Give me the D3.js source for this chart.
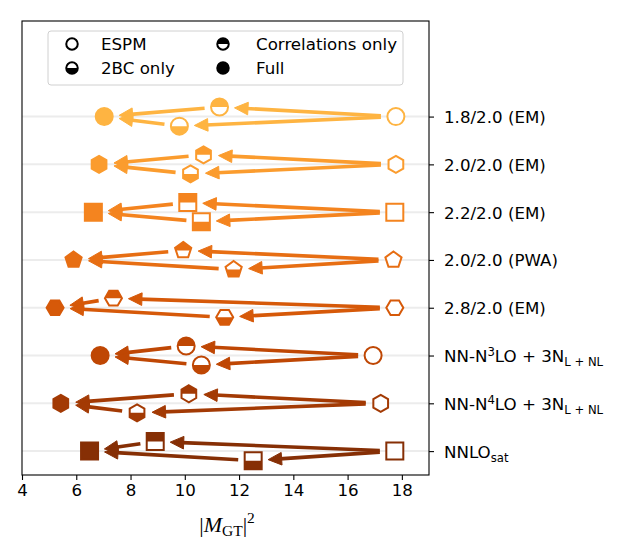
<!DOCTYPE html>
<html>
<head>
<meta charset="utf-8">
<script src="https://cdn.jsdelivr.net/npm/d3@7"></script>
<style>
  body { margin: 0; background: #fff; }
  text { font-family: "DejaVu Sans", sans-serif; fill: #000; }
</style>
</head>
<body>
<svg id="chart" width="618" height="557"></svg>
<script>
// interaction labels, top row first
const models = ["1.8/2.0 (EM)", "2.0/2.0 (EM)", "2.2/2.0 (EM)", "2.0/2.0 (PWA)", "2.8/2.0 (EM)",
  "NN-N^3LO + 3N_{L + NL}", "NN-N^4LO + 3N_{L + NL}", "NNLO_{sat}"];
const espm      = [17.78, 17.78, 17.74, 17.69, 17.74, 16.94, 17.22, 17.74];
const corrOnly  = [11.28, 10.69, 10.11,  9.94,  7.37, 10.05, 10.15,  8.91];
const twoBCOnly = [ 9.80, 10.21, 10.61, 11.80, 11.47, 10.61,  8.24, 12.52];
const full      = [ 7.03,  6.84,  6.63,  5.90,  5.22,  6.88,  5.43,  6.49];
const shapes = ["o", "h", "s", "p", "H", "o", "h", "s"];
const xTicks = [4, 6, 8, 10, 12, 14, 16, 18];
const legendItems = [
  {name: "ESPM", fill: "none"}, {name: "2BC only", fill: "bottom"},
  {name: "Correlations only", fill: "top"}, {name: "Full", fill: "full"}
];

const svg = d3.select("#chart");
const x = d3.scaleLinear().domain([4, 19]).range([22, 429]);
const y = d3.scaleLinear().domain([-0.5, 9]).range([475, 21]);
const rowY = i => y(models.length - 1 - i);
const color = d3.scaleSequential(d3.interpolateYlOrBr).domain([-5.9, 8.1]);
const shift = 0.2; // vertical offset of the half-filled markers (in row units)
const ms = 17;
const fs = 16.67;

const defs = svg.append("defs");
defs.append("clipPath").attr("id", "clip-top")
  .append("rect").attr("x", -30).attr("y", -30).attr("width", 60).attr("height", 30);
defs.append("clipPath").attr("id", "clip-bottom")
  .append("rect").attr("x", -30).attr("y", 0).attr("width", 60).attr("height", 30);

function shapePath(type, size) {
  const r = size / 2;
  if (type === "o") {
    const p = d3.path();
    p.arc(0, 0, r, 0, 2 * Math.PI);
    p.closePath();
    return p.toString();
  }
  if (type === "s") return `M${-r},${-r}H${r}V${r}H${-r}Z`;
  let n = 6, a0 = -Math.PI / 2;
  if (type === "p") n = 5;
  if (type === "H") a0 = 0;
  const pts = d3.range(n).map(k => [r * Math.cos(a0 + 2 * Math.PI * k / n), r * Math.sin(a0 + 2 * Math.PI * k / n)]);
  return "M" + pts.map(p => p.join(",")).join("L") + "Z";
}

function marker(g, cx, cy, type, fill, col, size, sw) {
  const m = g.append("g").attr("transform", `translate(${cx},${cy})`);
  const d = shapePath(type, size);
  m.append("path").attr("d", d).attr("fill", fill === "full" ? col : "#fff");
  if (fill === "top" || fill === "bottom")
    m.append("path").attr("d", d).attr("fill", col).attr("clip-path", `url(#clip-${fill})`);
  m.append("path").attr("d", d).attr("fill", "none").attr("stroke", col)
    .attr("stroke-width", sw).attr("stroke-linejoin", "miter");
}

function arrow(g, x0, y0, x1, y1, col) {
  const dx = x1 - x0, dy = y1 - y0, len = Math.hypot(dx, dy);
  const ux = dx / len, uy = dy / len;
  const shrink = 15, headL = 13.5, headW = 6.3;
  const sx = x0 + ux * shrink, sy = y0 + uy * shrink;
  const tx = x1 - ux * shrink, ty = y1 - uy * shrink;
  const bx = tx - ux * headL, by = ty - uy * headL;
  g.append("line").attr("x1", sx).attr("y1", sy).attr("x2", bx + ux * 2).attr("y2", by + uy * 2)
    .attr("stroke", col).attr("stroke-width", 3.6);
  g.append("path")
    .attr("d", `M${tx},${ty}L${bx - uy * headW},${by + ux * headW}L${bx + uy * headW},${by - ux * headW}Z`)
    .attr("fill", col).attr("stroke", col).attr("stroke-width", 1).attr("stroke-linejoin", "miter");
}

// grid lines
svg.append("g").selectAll("line").data(models).join("line")
  .attr("x1", x(4)).attr("x2", x(19))
  .attr("y1", (d, i) => rowY(i)).attr("y2", (d, i) => rowY(i))
  .attr("stroke", "#ececec").attr("stroke-width", 2);

// arrows and markers
const plot = svg.append("g");
models.forEach((m, i) => {
  const col = color(i);
  const yc = rowY(i);
  const yUp = y(models.length - 1 - i + shift);
  const yDn = y(models.length - 1 - i - shift);
  arrow(plot, x(espm[i]), yc, x(corrOnly[i]), yUp, col);
  arrow(plot, x(espm[i]), yc, x(twoBCOnly[i]), yDn, col);
  arrow(plot, x(corrOnly[i]), yUp, x(full[i]), yc, col);
  arrow(plot, x(twoBCOnly[i]), yDn, x(full[i]), yc, col);
  marker(plot, x(espm[i]), yc, shapes[i], "none", col, ms, 2);
  marker(plot, x(corrOnly[i]), yUp, shapes[i], "top", col, ms, 2);
  marker(plot, x(twoBCOnly[i]), yDn, shapes[i], "bottom", col, ms, 2);
  marker(plot, x(full[i]), yc, shapes[i], "full", col, ms, 2);
});

// frame
svg.append("rect").attr("x", x(4)).attr("y", y(9))
  .attr("width", x(19) - x(4)).attr("height", y(-0.5) - y(9))
  .attr("fill", "none").attr("stroke", "#000").attr("stroke-width", 1.1);

// x axis
const xAxis = svg.append("g").attr("transform", `translate(0,${y(-0.5)})`)
  .call(d3.axisBottom(x).tickValues(xTicks).tickSize(5).tickPadding(4.5));
xAxis.select(".domain").remove();
xAxis.selectAll(".tick line").attr("stroke", "#000").attr("stroke-width", 1.1);
xAxis.selectAll(".tick text").attr("font-size", fs).attr("font-family", "DejaVu Sans");

// y axis on the right
const yAxis = svg.append("g").attr("transform", `translate(${x(19)},0)`)
  .call(d3.axisRight(y).tickValues(d3.range(models.length)).tickSize(5).tickPadding(10).tickFormat(""));
yAxis.select(".domain").remove();
yAxis.selectAll(".tick line").attr("stroke", "#000").attr("stroke-width", 1.1);
yAxis.selectAll(".tick text").each(function (d) {
  const label = models[models.length - 1 - d];
  const t = d3.select(this).attr("font-size", fs).attr("font-family", "DejaVu Sans").attr("dy", null);
  const parts = label.split(/(\^\d|_\{[^}]*\})/).filter(s => s.length);
  const base = fs * 0.36;
  let cur = 0;
  parts.forEach((p, k) => {
    let target = 0, txt = p, small = false;
    if (p[0] === "^") { target = -6; txt = p.slice(1); small = true; }
    else if (p[0] === "_") { target = 4; txt = p.slice(2, -1); small = true; }
    t.append("tspan").attr("dy", (k === 0 ? base : 0) + target - cur)
      .attr("font-size", small ? fs * 0.7 : fs).text(txt);
    cur = target;
  });
});

// x label
const xl = svg.append("text").attr("x", 227).attr("y", 532).attr("text-anchor", "middle")
  .style("font-family", "'Liberation Serif', serif").attr("font-size", 22);
xl.append("tspan").text("|");
xl.append("tspan").attr("font-style", "italic").text("M");
xl.append("tspan").attr("font-size", 15.5).attr("dy", 4).text("GT");
xl.append("tspan").attr("dy", -4).text("|");
xl.append("tspan").attr("font-size", 15.5).attr("dy", -9).text("2");

// legend
const lg = svg.append("g");
lg.append("rect").attr("x", 48).attr("y", 31).attr("width", 355).attr("height", 54).attr("rx", 3)
  .attr("fill", "#fff").attr("fill-opacity", 0.8).attr("stroke", "#d0d0d0").attr("stroke-width", 1);
legendItems.forEach((it, k) => {
  const col = Math.floor(k / 2), row = k % 2;
  const mx = col ? 223 : 72, my = row ? 68 : 44;
  marker(lg, mx, my, "o", it.fill, "#000", 11.5, 2);
  lg.append("text").attr("x", col ? 256 : 101).attr("y", my).attr("dy", "0.35em")
    .attr("font-size", fs).text(it.name);
});
</script>
</body>
</html>
